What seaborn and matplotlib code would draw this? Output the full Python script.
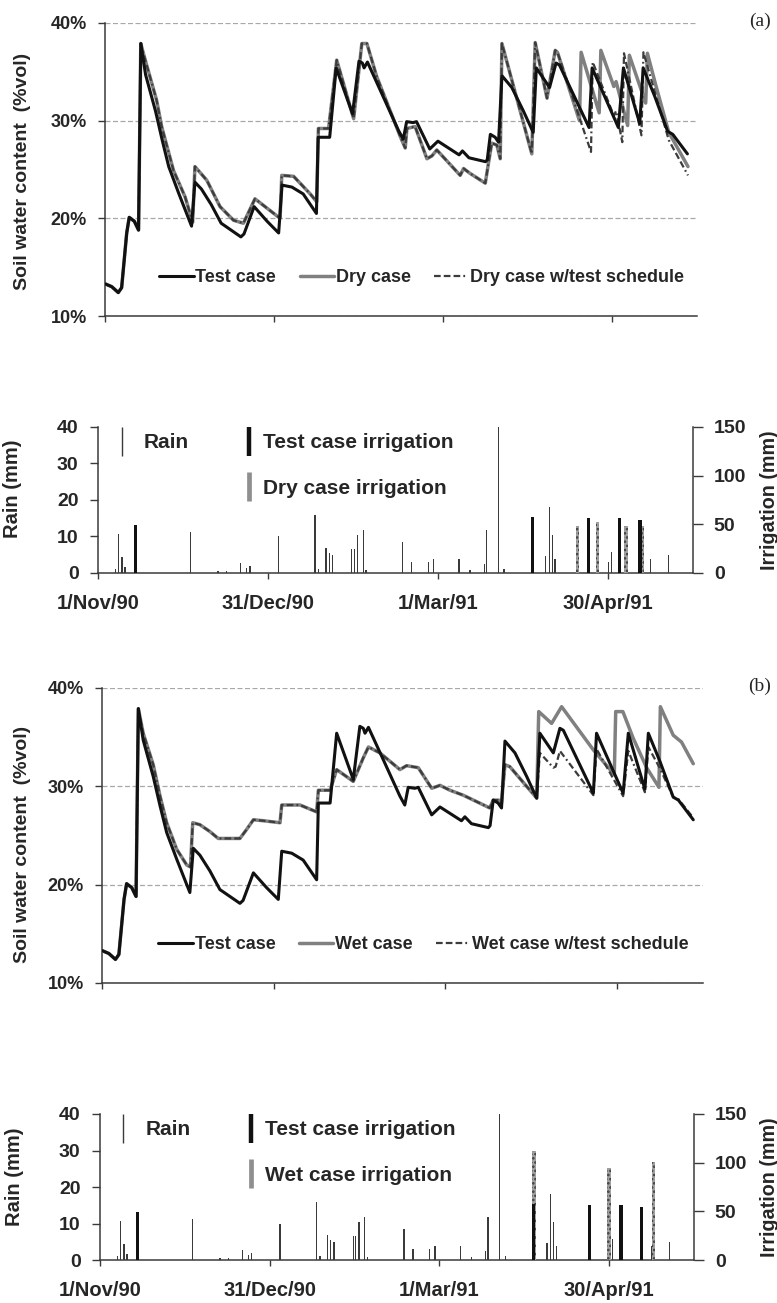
import matplotlib
matplotlib.use('Agg')
import matplotlib.pyplot as plt
import seaborn as sns
from matplotlib.lines import Line2D
from matplotlib.legend_handler import HandlerBase

# ---------------- data ----------------
tick_days = [0, 60, 120, 180]
tick_labels = ['1/Nov/90', '31/Dec/90', '1/Mar/91', '30/Apr/91']
swc_ticks = [10, 20, 30, 40]
swc_tick_labels = ['10%', '20%', '30%', '40%']
rain_ticks = [0, 10, 20, 30, 40]
irr_ticks = [0, 50, 100, 150]

# Test case soil water content (%vol) - same run in both panels
test_days = [0, 2.4, 4.7, 5.9, 7.7, 8.6, 10.4, 11.9, 12.7, 14.4, 17.9, 20.3, 22.6, 26.1,
             30.7, 31.9, 34.2, 37.7, 41.2, 44.7, 48.2, 49.3, 52.9, 57.5, 61.6, 62.8, 66.3,
             70.3, 75.0, 75.6, 79.7, 82.0, 87.8, 90.1, 91.3, 91.9, 93.1, 98.3, 104.1, 105.8,
             107.0, 109.3, 110.5, 115.2, 118.1, 125.6, 126.8, 129.1, 135.0, 135.6, 136.7,
             138.4, 139.6, 140.8, 144.3, 148.4, 151.9, 153.0, 157.7, 160.0, 161.2, 171.7,
             172.8, 182.1, 183.9, 189.7, 190.9, 195.0, 199.6, 201.4, 206.6]
test_swc = [13.3, 13.0, 12.4, 12.9, 18.5, 20.1, 19.7, 18.8, 37.9, 34.7, 31.0, 28.0, 25.3, 22.6,
            19.2, 23.7, 23.0, 21.4, 19.5, 18.8, 18.1, 18.4, 21.2, 19.7, 18.5, 23.4, 23.2,
            22.5, 20.5, 28.3, 28.3, 35.4, 30.7, 36.1, 35.9, 35.4, 36.0, 32.7, 29.0, 28.1,
            29.9, 29.8, 29.9, 27.1, 27.9, 26.5, 26.9, 26.2, 25.8, 26.0, 28.6,
            28.3, 27.8, 34.6, 33.4, 31.0, 28.8, 35.4, 33.4, 35.9, 35.7, 29.3,
            35.4, 29.3, 35.4, 29.7, 35.4, 32.5, 28.9, 28.6, 26.6]

# Dry case: common part (dry case == dry case w/test schedule until day 168)
dry_common_days = [0, 2.4, 4.7, 5.9, 7.7, 8.6, 10.4, 11.9, 12.7, 13.6, 18.3, 20.1, 24.3, 28.4,
                   31.1, 31.9, 36.1, 40.8, 45.6, 49.1, 53.2, 62.1, 62.7, 66.9, 69.2, 72.8,
                   75.1, 75.7, 79.3, 82.2, 88.2, 91.1, 92.9, 96.4, 102.4, 104.7, 106.5, 107.1,
                   110.0, 114.2, 116.0, 117.7, 126.0, 127.2, 129.5, 134.9, 136.0, 137.2, 139.0,
                   140.2, 140.8, 151.4, 152.6, 156.8, 159.7, 160.5]
dry_common_swc = [13.3, 13.0, 12.4, 12.9, 18.5, 20.1, 19.7, 18.8, 37.9, 36.9, 32.1, 29.4, 24.9, 22.2,
                  19.6, 25.3, 23.9, 21.2, 19.8, 19.5, 22.0, 20.0, 24.4, 24.3, 23.6, 22.5,
                  21.7, 29.2, 29.2, 36.2, 30.2, 37.9, 37.9, 34.5, 30.1, 28.4, 27.2, 29.2,
                  29.4, 26.1, 26.4, 27.0, 24.4, 25.1, 24.6, 23.6, 25.6, 27.7, 27.5,
                  26.1, 37.9, 26.6, 38.0, 32.3, 37.2, 37.0]
dry_tail_days = [168.3, 168.9, 175.3, 175.9, 180.5, 181.3, 185.4, 186.0, 191.8, 192.4, 195.5, 200.0, 206.8]
dry_tail_swc = [30.0, 37.0, 30.8, 37.2, 33.5, 34.0, 29.5, 36.7, 31.8, 36.9, 33.5, 28.8, 25.3]
drytest_tail_days = [172.4, 173.0, 180.5, 181.3, 183.5, 184.1, 190.3, 191.0, 195.5, 200.0, 206.8]
drytest_tail_swc = [26.8, 36.0, 30.5, 31.0, 27.8, 36.9, 28.5, 37.0, 32.5, 28.0, 24.4]

# Wet case: common part (wet case == wet case w/test schedule until day 152)
wet_common_days = [0, 2.4, 4.7, 5.9, 7.7, 8.6, 10.4, 11.9, 12.7, 14.4, 17.9, 20.3, 22.6, 26.1,
                   29.6, 30.9, 31.7, 34.2, 37.7, 40.6, 48.2, 50.5, 52.9, 56.4, 62.2, 62.8,
                   69.2, 75.0, 75.6, 79.7, 82.0, 87.8, 91.3, 93.1, 97.1, 104.1, 106.4, 110.5,
                   115.2, 118.1, 121.6, 126.2, 135.5, 136.7, 138.6, 139.6, 140.8, 142.5, 151.9]
wet_common_swc = [13.3, 13.0, 12.4, 12.9, 18.5, 20.1, 19.7, 18.8, 37.9, 35.4, 32.2, 29.0, 26.3, 23.6,
                  22.0, 21.8, 26.3, 26.1, 25.4, 24.7, 24.7, 25.6, 26.6, 26.5, 26.3, 28.1,
                  28.1, 27.4, 29.6, 29.6, 31.7, 30.5, 32.9, 34.0, 33.4, 31.7, 32.1, 31.9,
                  29.8, 30.1, 29.6, 29.1, 27.8, 28.6, 28.6, 28.3, 32.2, 32.0, 28.8]
wet_tail_days = [152.6, 157.1, 160.6, 171.7, 179.0, 179.5, 182.0, 185.6, 190.3, 194.6, 195.1,
                 199.6, 202.5, 206.6]
wet_tail_swc = [37.6, 36.4, 38.1, 33.7, 31.2, 37.6, 37.6, 34.9, 31.9, 29.9, 38.1,
                35.2, 34.5, 32.3]
wettest_tail_days = [153.0, 157.7, 158.5, 160.0, 171.7, 172.8, 182.1, 183.9, 189.7, 190.9,
                     195.0, 199.6, 201.4, 206.6]
wettest_tail_swc = [33.4, 31.9, 32.0, 33.6, 29.1, 33.8, 29.0, 33.6, 29.4, 34.0,
                    31.8, 28.9, 28.7, 26.8]

# Rain and irrigation (mm)
rain_days = [6.3, 7.2, 8.5, 9.5, 32.7, 42.4, 45.4, 50.4, 52.5, 53.6, 63.6, 76.6, 77.8, 80.5,
             81.6, 82.7, 89.5, 90.4, 91.6, 93.6, 94.6, 107.5, 110.7, 116.6, 118.4, 127.4,
             131.3, 136.4, 137.2, 141.3, 143.3, 158.0, 159.3, 160.3, 161.3, 180.3, 181.2,
             195.1, 201.3]
rain_mm = [1.0, 10.7, 4.5, 1.7, 11.1, 0.5, 0.5, 2.8, 1.5, 1.9, 10.0, 15.9, 1.0, 6.8,
           5.4, 4.9, 6.5, 6.7, 10.4, 11.8, 0.8, 8.5, 3.0, 3.0, 3.7, 3.7,
           0.8, 2.4, 11.8, 45.0, 1.0, 4.6, 18.0, 10.4, 3.7, 3.0, 5.7,
           3.7, 4.8]
test_irr_days = [13.3, 153.3, 173.1, 184.2, 191.3]
test_irr_mm = [49, 58, 57, 57, 54]
dry_irr_days = [169.3, 176.2, 186.3, 192.1]
dry_irr_mm = [48, 52.5, 48, 48]
wet_irr_days = [153.5, 179.9, 195.7]
wet_irr_mm = [111.7, 95, 100.8]

# ---------------- style ----------------
sns.set_style('ticks')
plt.rcParams['font.family'] = ['Liberation Sans', 'DejaVu Sans']
plt.rcParams['font.weight'] = 'bold'
plt.rcParams['axes.labelweight'] = 'bold'
plt.rcParams['hatch.linewidth'] = 1.2

SPINE = '#3a3a3a'
BLACK = '#111111'
GRAY = '#808080'
DASHDOT = '#3c3c3c'
DD_STYLE = (0, (3, 1.4, 3, 1.4, 3, 1.4, 0.8, 1.4))

fig = plt.figure(figsize=(7.77, 13.03), dpi=100)


class VLineHandler(HandlerBase):
    def create_artists(self, legend, orig_handle, xdescent, ydescent, width, height,
                       fontsize, trans):
        x = width / 2 - xdescent
        ln = Line2D([x, x], [-ydescent, height - ydescent], color=orig_handle.get_color(),
                    lw=orig_handle.get_linewidth(), linestyle=orig_handle.get_linestyle(),
                    solid_capstyle='butt', dash_capstyle='butt')
        ln.set_transform(trans)
        return [ln]


def soil_panel(rect, case_name, common_d, common_v, tail_d, tail_v, ttail_d, ttail_v,
               ylab_xy, leg_anchor):
    ax = fig.add_axes(rect)
    sns.lineplot(x=common_d + tail_d, y=common_v + tail_v, ax=ax, color=GRAY, linewidth=2.5,
                 estimator=None, sort=False, label=case_name, zorder=3)
    sns.lineplot(x=common_d + ttail_d, y=common_v + ttail_v, ax=ax, color=DASHDOT, linewidth=1.6,
                 estimator=None, sort=False, label=case_name + ' w/test schedule', zorder=4)
    ax.lines[-1].set_linestyle(DD_STYLE)
    sns.lineplot(x=test_days, y=test_swc, ax=ax, color=BLACK, linewidth=2.2,
                 estimator=None, sort=False, label='Test case', zorder=5)
    ax.set_xlim(0, 210)
    ax.set_ylim(10, 40)
    ax.set_yticks(swc_ticks)
    ax.set_yticklabels(swc_tick_labels)
    ax.set_xticks(tick_days)
    ax.set_xticklabels([])
    ax.set_xlabel('')
    ax.yaxis.grid(True, linestyle=(0, (4, 2)), color='#a8a8a8', linewidth=0.9)
    ax.set_axisbelow(True)
    for s in ['top', 'right']:
        ax.spines[s].set_visible(False)
    for s in ['left', 'bottom']:
        ax.spines[s].set_color(SPINE)
        ax.spines[s].set_linewidth(1.1)
    ax.tick_params(axis='y', length=5, width=1, color=SPINE, pad=8, labelsize=13)
    ax.tick_params(axis='x', length=4, width=1, color=SPINE)
    ax.set_ylabel('Soil water content  (%vol)', fontsize=14)
    ax.yaxis.set_label_coords(*ylab_xy)
    handles, labels = ax.get_legend_handles_labels()
    order = [labels.index('Test case'), labels.index(case_name),
             labels.index(case_name + ' w/test schedule')]
    ax.legend([handles[i] for i in order], [labels[i] for i in order], ncol=3, frameon=False,
              loc='center', bbox_to_anchor=leg_anchor, fontsize=13, handlelength=1.9,
              handletextpad=0.1, columnspacing=1.3, borderpad=0, borderaxespad=0)
    return ax


def bar_panel(rect, case_label, case_days, case_mm, rain_lab_xy, irr_lab_x):
    ax = fig.add_axes(rect)
    ax2 = ax.twinx()
    ax.bar(rain_days, rain_mm, width=0.45, color='#3a3a3a', linewidth=0, zorder=3)
    ax2.bar(case_days, case_mm, width=1.2, color='#a0a0a0', edgecolor='#3a3a3a',
            hatch='....', linewidth=0, zorder=3)
    ax2.bar(test_irr_days, test_irr_mm, width=1.1, color=BLACK, linewidth=0, zorder=4)
    ax.set_xlim(0, 210)
    ax.set_ylim(0, 40)
    ax2.set_ylim(0, 150)
    ax.set_yticks(rain_ticks)
    ax2.set_yticks(irr_ticks)
    ax.set_xticks(tick_days)
    ax.set_xticklabels(tick_labels)
    for a in (ax, ax2):
        a.spines['top'].set_visible(False)
        for s in ['left', 'bottom', 'right']:
            a.spines[s].set_color(SPINE)
            a.spines[s].set_linewidth(1.1)
    ax.spines['right'].set_visible(False)
    ax2.spines['left'].set_visible(False)
    ax2.spines['bottom'].set_visible(False)
    ax.tick_params(axis='y', length=6, width=1, color=SPINE, pad=8, labelsize=14)
    ax2.tick_params(axis='y', length=7, width=1, color=SPINE, pad=8, labelsize=14)
    ax.tick_params(axis='x', length=4, width=1, color=SPINE, pad=11, labelsize=14.5)
    ax.set_ylabel('Rain (mm)', fontsize=14.5)
    ax.yaxis.set_label_coords(*rain_lab_xy)
    ax2.set_ylabel('Irrigation (mm)', fontsize=14.2)
    ax2.yaxis.set_label_coords(irr_lab_x, 0.5)

    h_rain = Line2D([], [], color='#3a3a3a', lw=1.0)
    h_test = Line2D([], [], color=BLACK, lw=3.2)
    h_case = Line2D([], [], color='#8f8f8f', lw=3.4)
    hm = {Line2D: VLineHandler()}
    leg1 = ax2.legend([h_rain], ['Rain'], loc='upper left', bbox_to_anchor=(0.029, 1.0),
                      frameon=False, fontsize=15, handlelength=0.6, handleheight=1.75,
                      handletextpad=0.75, borderpad=0, borderaxespad=0, handler_map=hm)
    ax2.add_artist(leg1)
    ax2.legend([h_test, h_case], ['Test case irrigation', case_label], loc='upper left',
               bbox_to_anchor=(0.243, 1.0), frameon=False, fontsize=15, handlelength=0.6,
               handleheight=1.75, handletextpad=0.4, labelspacing=0.8, borderpad=0,
               borderaxespad=0, handler_map=hm)
    return ax, ax2


soil_panel([0.13514, 0.75748, 0.76190, 0.22487], 'Dry case',
           dry_common_days, dry_common_swc, dry_tail_days, dry_tail_swc,
           drytest_tail_days, drytest_tail_swc, (-0.125, 0.495), (0.535, 0.13))
bar_panel([0.12613, 0.56025, 0.76577, 0.11205], 'Dry case irrigation',
          dry_irr_days, dry_irr_mm, (-0.128, 0.58), 1.113)
soil_panel([0.13127, 0.24559, 0.77349, 0.22640], 'Wet case',
           wet_common_days, wet_common_swc, wet_tail_days, wet_tail_swc,
           wettest_tail_days, wettest_tail_swc, (-0.118, 0.468), (0.535, 0.129))
bar_panel([0.12870, 0.03300, 0.76448, 0.11205], 'Wet case irrigation',
          wet_irr_days, wet_irr_mm, (-0.128, 0.57), 1.111)

fig.text(760 / 777, 1 - 21 / 1303, '(a)', ha='center', va='center', fontsize=14,
         family=['Liberation Serif', 'DejaVu Serif'], weight='normal')
fig.text(760 / 777, 1 - 686 / 1303, '(b)', ha='center', va='center', fontsize=14,
         family=['Liberation Serif', 'DejaVu Serif'], weight='normal')

fig.savefig('out.png', dpi=100)
